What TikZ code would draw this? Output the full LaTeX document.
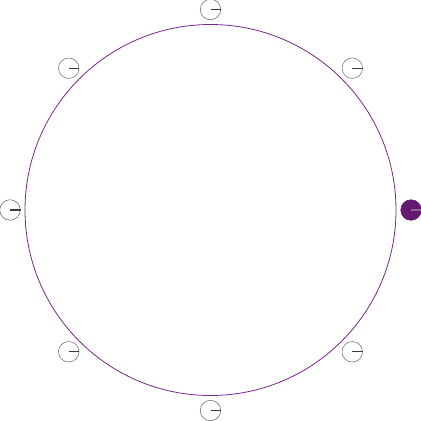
\documentclass[tikz,border=0pt]{standalone}
\usetikzlibrary{calc}
\begin{document}
\begin{tikzpicture}[x=1pt,y=-1pt,
  ring/.style={draw=ringpurple,line width=0.8pt},
  knob/.style={circle,draw=knobgray,line width=0.6pt,minimum size=20.5pt,inner sep=0pt,fill=white},
  knobact/.style={circle,draw=activepurple,fill=activepurple,line width=0.6pt,minimum size=20.5pt,inner sep=0pt},
  needle/.style={draw=needlegray,line width=1.3pt},
  needleact/.style={draw=needleact,line width=1.3pt}]
\definecolor{ringpurple}{RGB}{120,40,140}
\definecolor{knobgray}{RGB}{120,120,120}
\definecolor{activepurple}{RGB}{100,25,115}
\definecolor{needlegray}{RGB}{60,60,60}
\definecolor{needleact}{RGB}{140,100,150}
\useasboundingbox (0,0) rectangle (421,421);
\coordinate (c) at (210.5,210);
\node[circle,minimum size=371pt,inner sep=0pt,ring] (main) at (c) {};
\foreach \a/\n in {90/t,135/tl,180/l,225/bl,270/b,315/br,45/tr}{
  \node[knob] (\n) at ($(c)+(\a:200.5)$) {};
  \draw[needle] (\n.center) -- (\n.east);
}
\node[knobact] (r) at ($(c)+(0:200.5)$) {};
\draw[needleact] (r.center) -- (r.east);
\end{tikzpicture}
\end{document}
